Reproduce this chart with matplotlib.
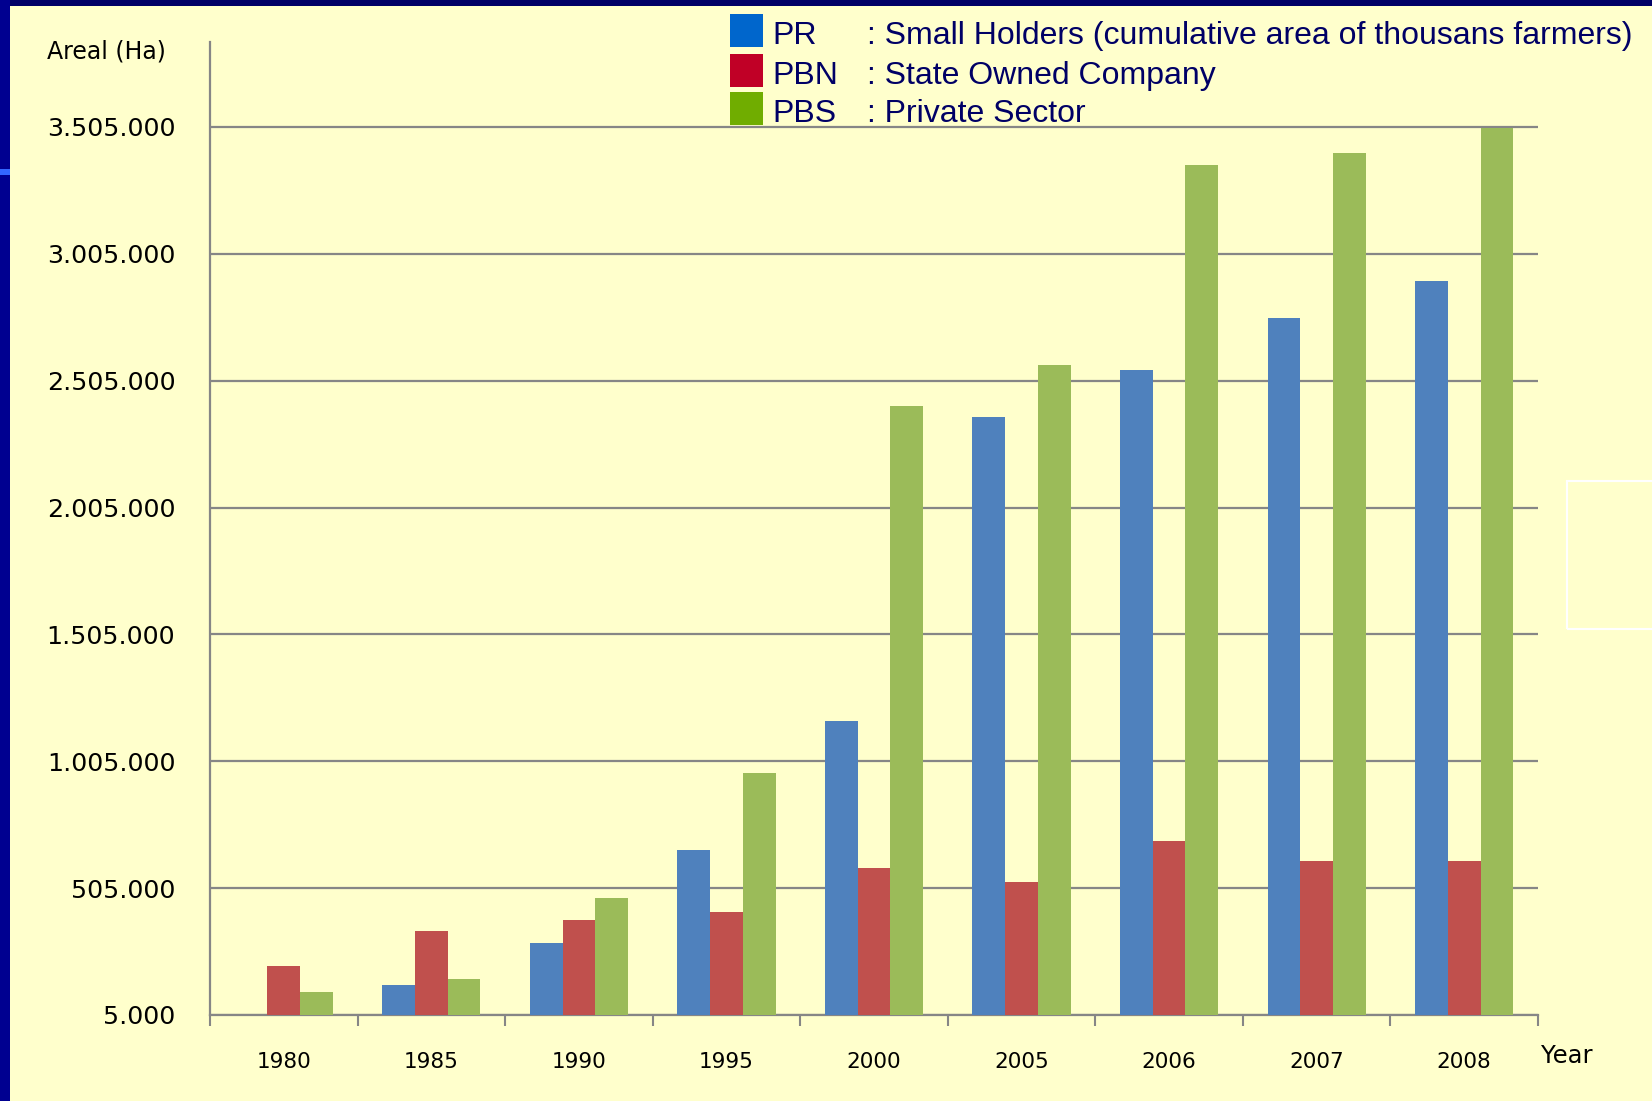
import matplotlib
matplotlib.use("Agg")
import matplotlib.pyplot as plt
from matplotlib.patches import Rectangle
import numpy as np

years = ["1980", "1985", "1990", "1995", "2000", "2005", "2006", "2007", "2008"]
pr = [0, 125000, 290000, 655000, 1165000, 2360000, 2545000, 2750000, 2898000]
pbn = [200000, 335000, 378000, 411000, 584000, 530000, 690000, 610000, 610000]
pbs = [95000, 148000, 468000, 958000, 2405000, 2565000, 3355000, 3402000, 3500000]
yticks = [5000, 505000, 1005000, 1505000, 2005000, 2505000, 3005000, 3505000]
ytick_labels = ["5.000", "505.000", "1.005.000", "1.505.000", "2.005.000",
                "2.505.000", "3.005.000", "3.505.000"]
legend_codes = ["PR", "PBN", "PBS"]
legend_texts = [": Small Holders (cumulative area of thousans farmers)",
                ": State Owned Company", ": Private Sector"]

W, H = 1652, 1101
BG = "#FFFFCC"
GRAY = "#868686"
bar_colors = ["#4F81BD", "#C0504D", "#9BBB59"]
legend_colors = ["#0066CC", "#C00026", "#70AD00"]

fig = plt.figure(figsize=(W / 100, H / 100), dpi=100)
fig.patch.set_facecolor(BG)

def fx(px):
    return px / W

def fy(py):
    return 1 - py / H

# borders
fig.patches.append(Rectangle((0, fy(6)), 1, 6 / H, transform=fig.transFigure,
                             facecolor="#000066", edgecolor="none", zorder=0))
fig.patches.append(Rectangle((0, 0), 10 / W, 1, transform=fig.transFigure,
                             facecolor="#000090", edgecolor="none", zorder=0))
fig.patches.append(Rectangle((0, fy(175)), 10 / W, 6 / H, transform=fig.transFigure,
                             facecolor="#3366FF", edgecolor="none", zorder=1))
fig.patches.append(Rectangle((fx(1567), fy(629)), (W - 1567 + 5) / W, (629 - 481) / H,
                             transform=fig.transFigure, facecolor="none",
                             edgecolor="white", linewidth=1.5, zorder=1))

ax_left, ax_right, ax_bottom, ax_top = 210, 1538, 1015, 42
ax = fig.add_axes([fx(ax_left), fy(ax_bottom), (ax_right - ax_left) / W,
                   (ax_bottom - ax_top) / H])
ax.set_facecolor(BG)

x = np.arange(len(years))
w = 0.222
for i, (vals, c) in enumerate(zip([pr, pbn, pbs], bar_colors)):
    ax.bar(x + (i - 1) * w, vals, width=w, color=c, edgecolor="none", zorder=3)

ymin = 5000
ymax = 5000 + (ax_bottom - ax_top) * 3941
ax.set_ylim(ymin, ymax)
ax.set_xlim(-0.5, len(years) - 0.5)

ax.set_yticks(yticks)
ax.set_yticklabels(ytick_labels)
ax.yaxis.grid(True, color=GRAY, linewidth=1.6, zorder=0)
ax.set_axisbelow(True)
ax.tick_params(axis="y", length=0, pad=25, labelsize=18.3, labelcolor="black")

ax.set_xticks(x)
ax.set_xticklabels(years)
ax.set_xticks(np.arange(len(years) + 1) - 0.5, minor=True)
ax.tick_params(axis="x", which="major", length=0, pad=27, labelsize=15.5)
ax.tick_params(axis="x", which="minor", length=8, width=1.5, color=GRAY)

for s in ["top", "right"]:
    ax.spines[s].set_visible(False)
for s in ["left", "bottom"]:
    ax.spines[s].set_color(GRAY)
    ax.spines[s].set_linewidth(1.6)

fig.text(fx(47), fy(52), "Areal (Ha)", ha="left", va="center", fontsize=17,
         color="black")
fig.text(fx(1541), fy(1056), "Year", ha="left", va="center", fontsize=17.5,
         color="black")

# legend
box_tops = [14, 54, 92]
for top, code, txt, c in zip(box_tops, legend_codes, legend_texts, legend_colors):
    fig.patches.append(Rectangle((fx(730), fy(top + 33)), 33 / W, 33 / H,
                                 transform=fig.transFigure, facecolor=c,
                                 edgecolor="none", zorder=2))
    fig.text(fx(772), fy(top + 22), code, ha="left", va="center",
             fontsize=23, color="#000066", family="Liberation Sans")
    fig.text(fx(867), fy(top + 22), txt, ha="left", va="center",
             fontsize=23, color="#000066", family="Liberation Sans")

fig.savefig("out.png", dpi=100, facecolor=BG)
